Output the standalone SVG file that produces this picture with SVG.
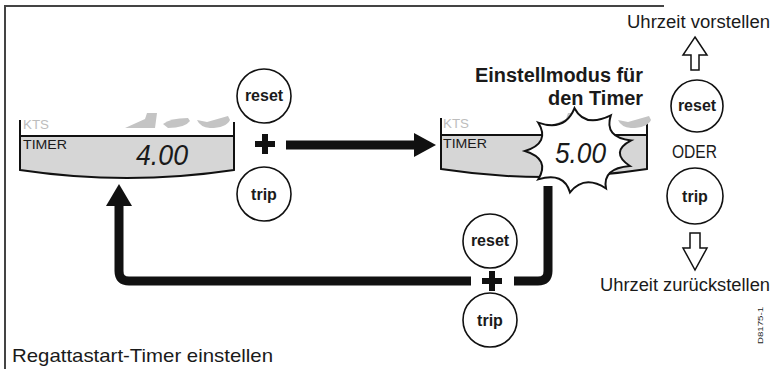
<svg xmlns="http://www.w3.org/2000/svg" width="776" height="369" viewBox="0 0 776 369">
<style>
text{font-family:"Liberation Sans",Arial,sans-serif;fill:#1a1a1a}
.btn circle{fill:#fff;stroke:#111;stroke-width:1.6}
.btn text{font-weight:bold;font-size:16px;text-anchor:middle}
.lcd .body{fill:#d6d6d6;stroke:#111;stroke-width:2}
.lcd .frame{fill:none;stroke:#111;stroke-width:2}
.lcd .kts{font-size:12px;fill:#bdbdbd}
.lcd .tm{font-size:13px}
.lcd .dig{font-size:29px;font-style:italic}
.icon{fill:#c4c4c4}
.plus{stroke:#111;stroke-width:6}
.conn{fill:none;stroke:#111;stroke-width:9}
.lbl{font-size:18px}
.harrow{fill:#fff;stroke:#111;stroke-width:1.5}
</style>
<g id="frame" fill="none" stroke="#444" stroke-width="2">
<path d="M5,369 V6 H664"/>
</g>
<g id="connectors">
<path class="conn" d="M286,145 H416"/>
<polygon points="414,133 436,145 414,157" fill="#111"/>
<path class="conn" d="M548,186 V271 Q548,281 538,281 H514"/>
<path class="conn" d="M471,281 H129 Q119,281 119,271 V204"/>
<polygon points="106,206 132,206 119,184" fill="#111"/>
</g>
<g id="lcd-left" class="lcd">
<path class="body" d="M20,136 H234 V170 Q127,186 20,170 Z"/>
<path class="frame" d="M20,120 V170 M234,122 V170"/>
<g class="icon">
<path d="M125,128 L145,119 L147,113 L157,113 L155,128 Z"/>
<path d="M163,124 Q170,118 188,118 L190,121 Q185,128 168,128 Z"/>
<path d="M197,120 L207,122 L228,116 L230,120 Q226,128 210,128 Q200,127 197,120 Z"/>
</g>
<text class="kts" x="23" y="129" textLength="26" lengthAdjust="spacingAndGlyphs">KTS</text>
<text class="tm" x="23" y="149" textLength="44" lengthAdjust="spacingAndGlyphs">TIMER</text>
<text class="dig" x="136" y="165" textLength="52" lengthAdjust="spacingAndGlyphs">4.00</text>
</g>
<g id="lcd-right" class="lcd">
<path class="body" d="M441,135 H647 V169 Q544,185 441,169 Z"/>
<path class="frame" d="M441,118 V169 M647,120 V169"/>
<g class="icon" transform="translate(421,0)">
<path d="M125,128 L145,119 L147,113 L157,113 L155,128 Z"/>
<path d="M163,124 Q170,118 188,118 L190,121 Q185,128 168,128 Z"/>
<path d="M197,120 L207,122 L228,116 L230,120 Q226,128 210,128 Q200,127 197,120 Z"/>
</g>
<text class="kts" x="443" y="128" textLength="26" lengthAdjust="spacingAndGlyphs">KTS</text>
<text class="tm" x="443" y="148" textLength="44" lengthAdjust="spacingAndGlyphs">TIMER</text>
</g>
<g id="burst">
<path d="M574.5,108.2 Q584.8,128 610.8,115.4 Q603.7,137.3 631.2,140.4 Q609.2,152 629.9,166 Q602.1,168.3 606,188.5 Q584.3,174.4 570,192.4 Q563.9,171.6 538.2,179.4 Q550.6,159.1 525,151 Q550.6,142.9 538.2,122.6 Q565,131.9 574.5,108.2 Z" fill="#fff" stroke="#111" stroke-width="2"/>
<text x="555" y="163" font-size="29" font-style="italic" textLength="51" lengthAdjust="spacingAndGlyphs">5.00</text>
</g>
<g id="mode-label">
<text x="475" y="82" font-size="20" font-weight="bold" textLength="168" lengthAdjust="spacingAndGlyphs">Einstellmodus für</text>
<text x="548" y="105" font-size="20" font-weight="bold" textLength="95" lengthAdjust="spacingAndGlyphs">den Timer</text>
</g>
<g id="reset-left" class="btn"><circle cx="264" cy="96" r="27"/><text x="264" y="101">reset</text></g>
<g id="plus-left"><path class="plus" d="M255,144 H275 M265,134 V154"/></g>
<g id="trip-left" class="btn"><circle cx="264" cy="194" r="27"/><text x="264" y="200">trip</text></g>
<g id="reset-bottom" class="btn"><circle cx="490" cy="241" r="27"/><text x="490" y="246">reset</text></g>
<g id="plus-bottom"><path class="plus" d="M482,281 H502 M492,271 V291"/></g>
<g id="trip-bottom" class="btn"><circle cx="490" cy="320" r="27"/><text x="490" y="326">trip</text></g>
<g id="reset-right" class="btn"><circle cx="697" cy="106" r="26"/><text x="697" y="111">reset</text></g>
<g id="trip-right" class="btn"><circle cx="695" cy="196" r="28"/><text x="695" y="202">trip</text></g>
<g id="oder"><text class="lbl" x="672" y="158" font-size="17" textLength="45" lengthAdjust="spacingAndGlyphs">ODER</text></g>
<g id="up-arrow"><path class="harrow" d="M695,37 L707,55 L699,55 L699,70 L691,70 L691,55 L683,55 Z"/></g>
<g id="down-arrow"><path class="harrow" d="M690,233 H700 V248 H707 L695,270 L683,248 H690 Z"/></g>
<g id="labels">
<text class="lbl" x="627" y="28" textLength="143" lengthAdjust="spacingAndGlyphs">Uhrzeit vorstellen</text>
<text class="lbl" x="600" y="291" textLength="170" lengthAdjust="spacingAndGlyphs">Uhrzeit zurückstellen</text>
<text x="12" y="362" font-size="19" textLength="261" lengthAdjust="spacingAndGlyphs">Regattastart-Timer einstellen</text>
<text x="0" y="0" font-size="8" transform="translate(763,344) rotate(-90)" textLength="37" lengthAdjust="spacingAndGlyphs">D8175-1</text>
</g>
</svg>
